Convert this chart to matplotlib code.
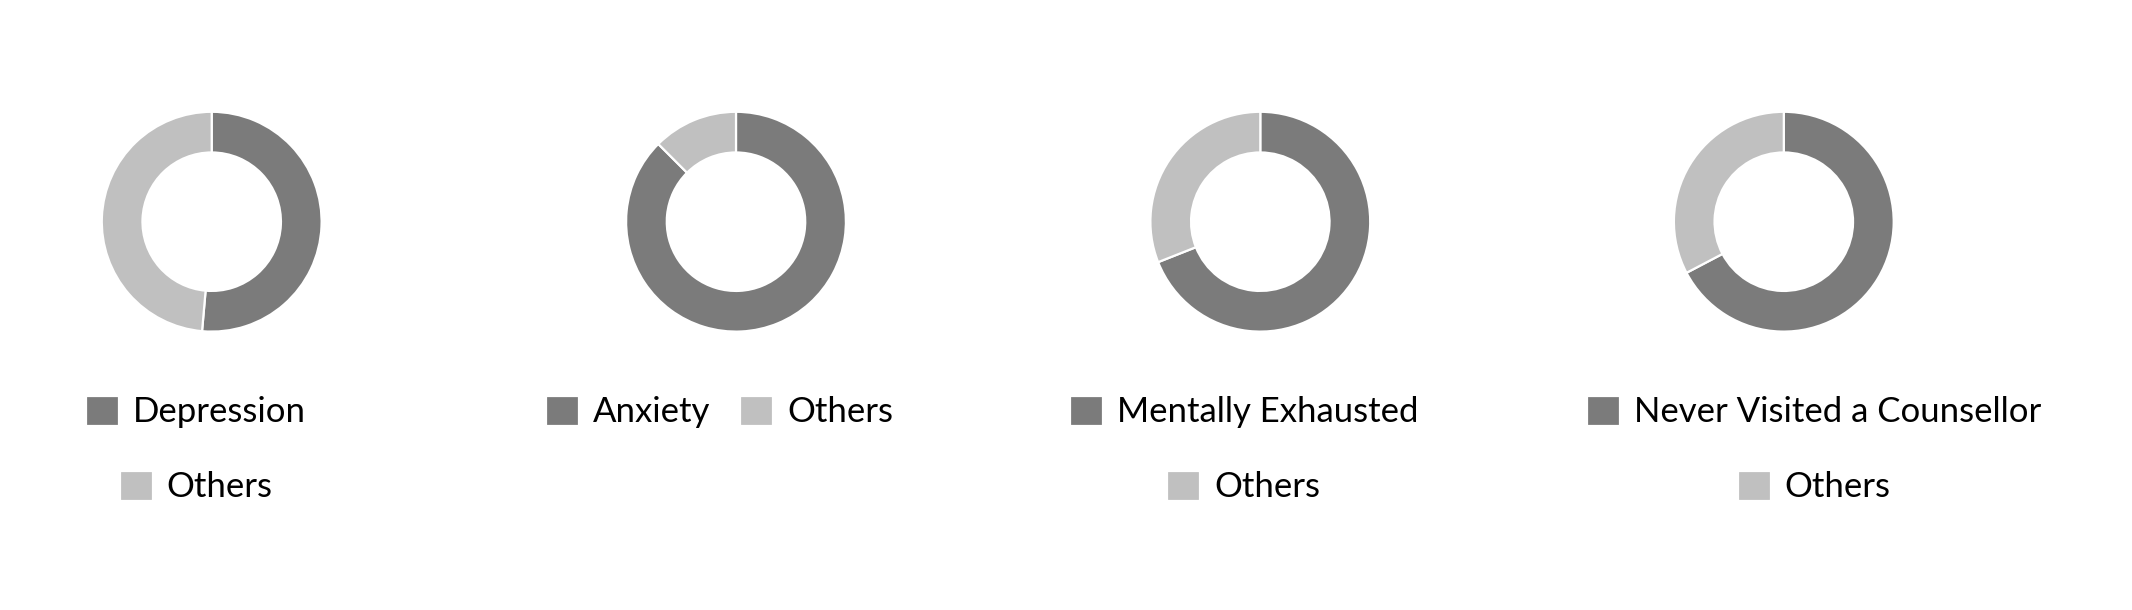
import matplotlib
matplotlib.use("Agg")
from matplotlib import pyplot as plt

# Данные
titles = ["Depression", "Anxiety", "Mentally Exhausted", "Never Visited a Counsellor"]
others_label = "Others"
main_share = [51.4, 87.5, 69.0, 67.3]
others_share = [48.6, 12.5, 31.0, 32.7]

dark = "#7b7b7b"
light = "#c0c0c0"

plt.rcParams["font.family"] = ["Lato", "DejaVu Sans"]

W, H = 2132, 610
fig = plt.figure(figsize=(W / 100, H / 100), dpi=100)

# центры колец и легенд в пикселях
donut_x = [211.7, 736.0, 1260.3, 1783.8]
donut_y = 221.7
radius = 111
legend_x = [196.3, 719.7, 1243.8, 1814.0]
row_y = [412, 487]
one_row = [False, True, False, False]

fs = 25
fs_px = fs * 100 / 72
leg_kw = dict(loc="center", frameon=False,
              prop=dict(family=["Lato", "DejaVu Sans"], size=fs, weight="normal"),
              handlelength=33 / fs_px, handleheight=33 / fs_px,
              handletextpad=14 / fs_px, columnspacing=30 / fs_px,
              borderpad=0, borderaxespad=0, bbox_transform=fig.transFigure)

for i in range(4):
    ax = fig.add_axes([(donut_x[i] - radius) / W, 1 - (donut_y + radius) / H,
                       2 * radius / W, 2 * radius / H])
    wedges, _ = ax.pie([main_share[i], others_share[i]], colors=[dark, light],
                       startangle=90, counterclock=False,
                       wedgeprops=dict(width=0.37, edgecolor="white", linewidth=1.6))
    ax.set_xlim(-1.01, 1.01)
    ax.set_ylim(-1.01, 1.01)

    if one_row[i]:
        fig.legend(wedges, [titles[i], others_label], ncol=2,
                   bbox_to_anchor=(legend_x[i] / W, 1 - row_y[0] / H), **leg_kw)
    else:
        fig.legend([wedges[0]], [titles[i]],
                   bbox_to_anchor=(legend_x[i] / W, 1 - row_y[0] / H), **leg_kw)
        fig.legend([wedges[1]], [others_label],
                   bbox_to_anchor=(legend_x[i] / W, 1 - row_y[1] / H), **leg_kw)

fig.savefig("out.png", dpi=100, facecolor="white")
